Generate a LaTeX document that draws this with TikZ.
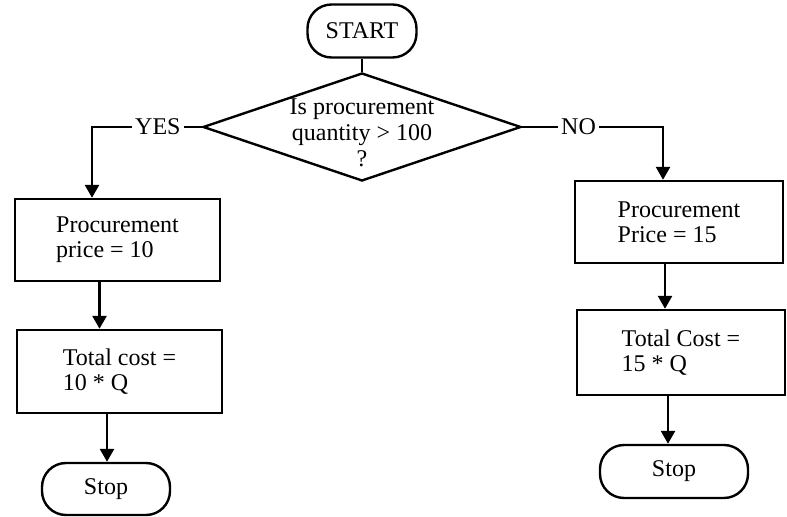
\documentclass[tikz,border=0pt]{standalone}
\usepackage{fontspec}
\setmainfont{Liberation Serif}
\usetikzlibrary{shapes.geometric,arrows.meta}

\begin{document}
\begin{tikzpicture}[x=0.5pt,y=-0.5pt,
  every node/.style={font=\fontsize{12}{12.5}\selectfont},
  terminal/.style={draw,line width=1.2pt,rounded corners=12pt,inner sep=0pt},
  process/.style={draw,line width=1.2pt,align=left,inner sep=0pt},
  decision/.style={draw,diamond,line width=1.2pt,inner sep=0pt},
  flow/.style={line width=1.3pt,-{Triangle[width=7pt,length=6.5pt]}},
  answer/.style={fill=white,inner sep=1.5pt}]
\useasboundingbox (0,0) rectangle (787,517);
% start and test
\node[terminal,minimum width=54.5pt,minimum height=26.5pt] (start) at (362,31) {START};
\node[decision,minimum width=159pt,minimum height=54pt] (dec) at (362,127) {};
\node[align=center,font=\fontsize{12}{13}\selectfont] (ask) at ([yshift=-3pt]dec.center) {Is procurement\\quantity > 100\\?};
% yes branch
\node[process,minimum width=102.5pt,minimum height=41pt] (p10) at (117.5,240) {Procurement\\price = 10};
\node[process,minimum width=102.5pt,minimum height=41.5pt] (c10) at (119.5,371.5) {Total cost =\\10 * Q};
\node[terminal,minimum width=64pt,minimum height=26pt] (stop10) at (106,489) {Stop};
% no branch
\node[process,minimum width=104pt,minimum height=41pt] (p15) at (679,222) {Procurement\\Price = 15};
\node[process,minimum width=104pt,minimum height=42.5pt] (c15) at (681,352.5) {Total Cost =\\15 * Q};
\node[terminal,minimum width=74pt,minimum height=26.5pt] (stop15) at (674,471.5) {Stop};
% connectors
\draw[line width=1.3pt] (start) -- (dec);
\draw[flow] (dec.west) -| node[answer,pos=0.2] (yes) {YES} ([xshift=-12.75pt]p10.north);
\draw[flow] (dec.east) -| node[answer,pos=0.2] (no) {NO} ([xshift=-8pt]p15.north);
\draw[flow] ([xshift=-9pt]p10.south) -- ([xshift=-9pt]p10.south |- c10.north);
\draw[flow] ([xshift=-6.25pt]c10.south) -- ([xshift=-6.25pt]c10.south |- stop10.north);
\draw[flow] ([xshift=-7pt]p15.south) -- ([xshift=-7pt]p15.south |- c15.north);
\draw[flow] ([xshift=-6.5pt]c15.south) -- ([xshift=-6.5pt]c15.south |- stop15.north);
\end{tikzpicture}
\end{document}
